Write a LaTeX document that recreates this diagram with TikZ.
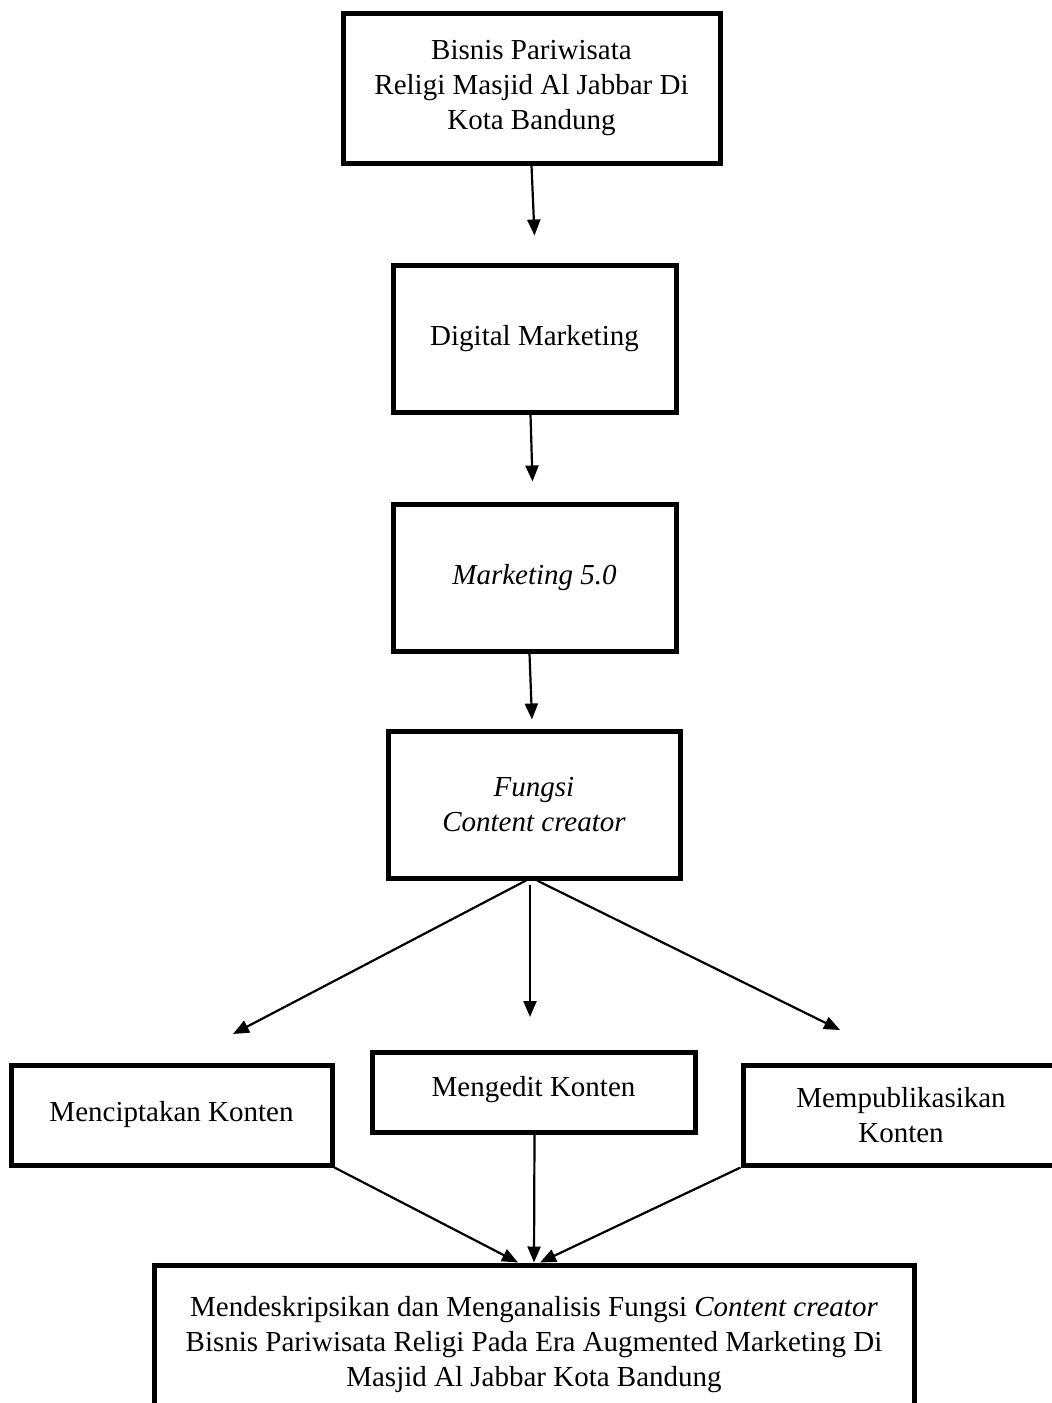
\documentclass[tikz,border=0pt]{standalone}
\usepackage{fontspec}
\setmainfont{Liberation Serif}
\usetikzlibrary{arrows.meta}
\begin{document}
\begin{tikzpicture}[x=1pt,y=-1pt,
  boxnode/.style={draw,line width=5pt,rectangle,inner sep=0pt,align=center,
    font=\fontsize{29}{35}\selectfont},
  conn/.style={line width=2.2pt,-{Triangle[length=16pt,width=13pt]}}]
\clip (0,0) rectangle (1052,1403);
\fill[white] (0,0) rectangle (1052,1403);
\node[boxnode,minimum width=377pt,minimum height=150pt] (b1) at (531.5,88) {Bisnis Pariwisata\\Religi Masjid Al Jabbar Di\\Kota Bandung};
\node[boxnode,minimum width=283pt,minimum height=147pt] (b2) at (534.5,338.5) {Digital Marketing};
\node[boxnode,minimum width=283pt,minimum height=147pt] (b3) at (534.5,577.5) {\itshape Marketing 5.0};
\node[boxnode,minimum width=292pt,minimum height=147pt] (b4) at (534,804.5) {\itshape Fungsi\\\itshape Content creator};
\node[boxnode,minimum width=321pt,minimum height=100pt] (m1) at (171.5,1115) {Menciptakan Konten};
\node[boxnode,minimum width=323pt,minimum height=80pt,text depth=12pt] (m2) at (533.5,1092) {Mengedit Konten};
\node[boxnode,minimum width=316pt,minimum height=100pt] (m3) at (901,1115) {Mempublikasikan\\Konten};
\node[boxnode,minimum width=760pt,minimum height=160pt] (r) at (534,1345) {Mendeskripsikan dan Menganalisis Fungsi \textit{Content creator}\\Bisnis Pariwisata Religi Pada Era Augmented Marketing Di\\Masjid Al Jabbar Kota Bandung};
\draw[conn] (b1.south) -- ([yshift=27pt]b2.north);
\draw[conn] ([xshift=-4pt]b2.south) -- ([xshift=-2pt,yshift=20pt]b3.north);
\draw[conn] ([xshift=-5pt]b3.south) -- ([xshift=-2pt,yshift=9pt]b4.north);
\coordinate (t1) at (233,1034);
\coordinate (t2) at (530,1017);
\coordinate (t3) at (840,1030);
\draw[conn] ([xshift=-8pt]b4.south) -- (t1);
\draw[conn] ([xshift=-4pt,yshift=-4pt]b4.south) -- (t2);
\draw[conn] ([xshift=3pt]b4.south) -- (t3);
\draw[conn] (m1.south east) -- ([xshift=-16pt]r.north);
\draw[conn] ([xshift=1pt]m2.south) -- ([xshift=0pt]r.north);
\draw[conn] (m3.south west) -- ([xshift=6pt]r.north);
\end{tikzpicture}
\end{document}
